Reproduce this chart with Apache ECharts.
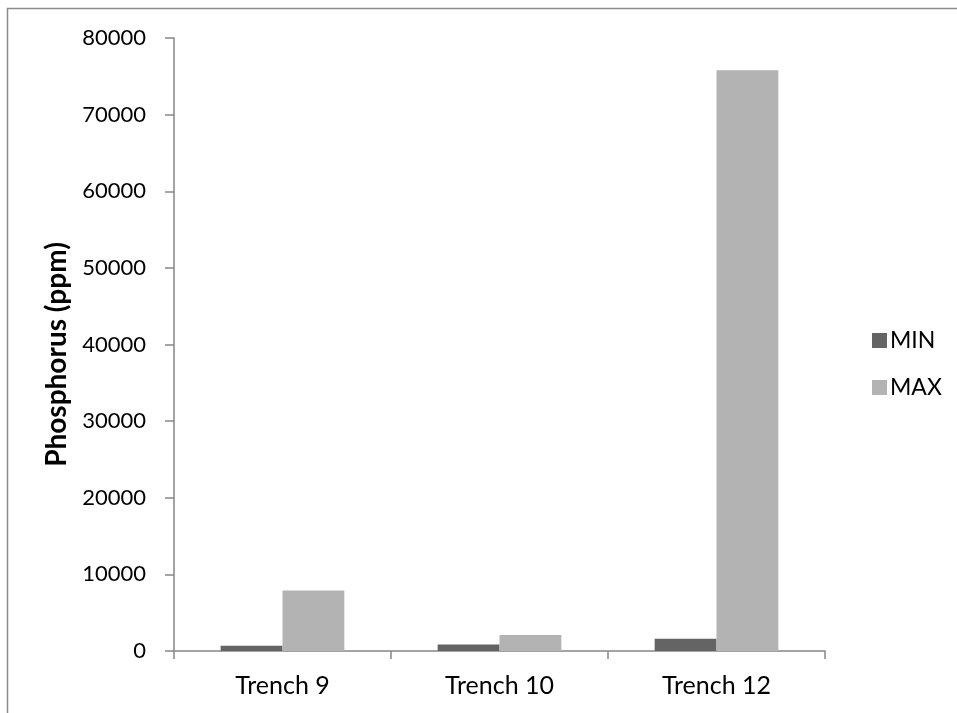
<!DOCTYPE html>
<html>
<head>
<meta charset="utf-8">
<script src="https://cdn.jsdelivr.net/npm/echarts@6/dist/echarts.min.js"></script>
<style>
  html, body { margin: 0; padding: 0; background: #fff; }
  #chart { width: 957px; height: 713px; }
</style>
</head>
<body>
<div id="chart"></div>
<script>
// Phosphorus concentration ranges per trench
const categories = ['Trench 9', 'Trench 10', 'Trench 12'];
const minValues = [700, 850, 1600];
const maxValues = [7900, 2100, 75800];
const yTicks = { min: 0, max: 80000, interval: 10000 };

const FONT = 'Lato, "Open Sans", sans-serif';
const axisColor = '#868686';

const chart = echarts.init(document.getElementById('chart'), null, { renderer: 'canvas' });

chart.setOption({
  animation: false,
  backgroundColor: '#ffffff',
  graphic: [{
    type: 'rect',
    shape: { x: 7.5, y: 8.5, width: 1200, height: 1200 },
    style: { fill: 'none', stroke: '#8c8c8c', lineWidth: 1.5 },
    silent: true
  }],
  grid: { left: 174, right: 132, top: 38, bottom: 62, containLabel: false },
  legend: {
    orient: 'vertical',
    left: 867,
    top: 324,
    itemWidth: 15,
    itemHeight: 15,
    itemGap: 24,
    icon: 'rect',
    textStyle: { fontFamily: FONT, fontSize: 23, color: '#000', padding: [0, 0, 0, -2] },
    data: ['MIN', 'MAX']
  },
  xAxis: {
    type: 'category',
    data: categories,
    axisLine: { lineStyle: { color: axisColor, width: 1.5 } },
    axisTick: { show: true, length: 8, alignWithLabel: false, lineStyle: { color: axisColor, width: 1.5 } },
    axisLabel: { fontFamily: FONT, fontSize: 25, color: '#000', margin: 22 },
    splitLine: { show: false }
  },
  yAxis: {
    type: 'value',
    min: yTicks.min,
    max: yTicks.max,
    interval: yTicks.interval,
    name: 'Phosphorus (ppm)',
    nameLocation: 'middle',
    nameGap: 96,
    nameRotate: 90,
    nameTextStyle: {
      fontFamily: FONT, fontSize: 28, fontWeight: 'bold', color: '#000',
      padding: [0, 20, 0, 0]
    },
    axisLine: { show: true, lineStyle: { color: axisColor, width: 1.5 } },
    axisTick: { show: true, length: 9, lineStyle: { color: axisColor, width: 1.5 } },
    axisLabel: {
      fontFamily: FONT, fontSize: 22, color: '#000', margin: 28,
      formatter: function (v) { return String(v); }
    },
    splitLine: { show: false }
  },
  series: [
    {
      name: 'MIN',
      type: 'bar',
      data: minValues,
      barGap: '0%',
      barCategoryGap: '43%',
      itemStyle: { color: '#646464' }
    },
    {
      name: 'MAX',
      type: 'bar',
      data: maxValues,
      barGap: '0%',
      barCategoryGap: '43%',
      itemStyle: { color: '#b3b3b3' }
    }
  ]
});
</script>
</body>
</html>
